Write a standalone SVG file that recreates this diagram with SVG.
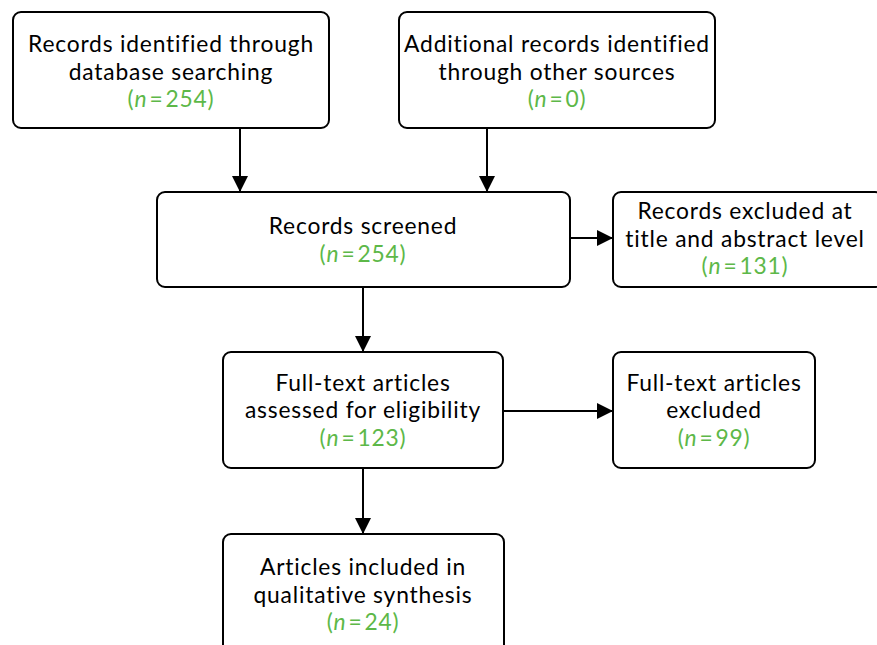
<svg xmlns="http://www.w3.org/2000/svg" width="877" height="645" viewBox="0 0 877 645">
<defs>
<marker id="ah" viewBox="0 0 16 16" refX="16" refY="8" markerWidth="16" markerHeight="16" markerUnits="userSpaceOnUse" orient="auto">
<path d="M0,0 L16,8 L0,16 Z" fill="#000"/>
</marker>
<style>
.box{fill:#fff;stroke:#000;stroke-width:2}
.t{font-family:Lato,"Open Sans","Liberation Sans",sans-serif;font-size:22.8px;letter-spacing:0.8px;fill:#000;text-anchor:middle}
.n{fill:#5db848}
.c{stroke:#000;stroke-width:2;fill:none;marker-end:url(#ah)}
</style>
</defs>
<rect width="877" height="645" fill="#fff"/>
<g id="connectors">
<line class="c" x1="240" y1="128" x2="240" y2="192"/>
<line class="c" x1="487" y1="128" x2="487" y2="192"/>
<line class="c" x1="570" y1="238" x2="613" y2="238"/>
<line class="c" x1="363" y1="287" x2="363" y2="352"/>
<line class="c" x1="503" y1="411" x2="613" y2="411"/>
<line class="c" x1="363" y1="468" x2="363" y2="534"/>
</g>
<g id="n1">
<rect class="box" x="13" y="12" width="316" height="116" rx="8"/>
<text class="t" x="171" y="52">Records identified through</text>
<text class="t" x="171" y="79.5">database searching</text>
<text class="t n" x="171" y="107">(<tspan font-style="italic">n</tspan><tspan dx="2">=</tspan><tspan dx="2">254)</tspan></text>
</g>
<g id="n2">
<rect class="box" x="399" y="12" width="316" height="116" rx="8"/>
<text class="t" x="557" y="52">Additional records identified</text>
<text class="t" x="557" y="79.5">through other sources</text>
<text class="t n" x="557" y="107">(<tspan font-style="italic">n</tspan><tspan dx="2">=</tspan><tspan dx="2">0)</tspan></text>
</g>
<g id="n3">
<rect class="box" x="157" y="192" width="413" height="95" rx="8"/>
<text class="t" x="363" y="234">Records screened</text>
<text class="t n" x="363" y="262">(<tspan font-style="italic">n</tspan><tspan dx="2">=</tspan><tspan dx="2">254)</tspan></text>
</g>
<g id="n4">
<rect class="box" x="613" y="192" width="270" height="95" rx="8"/>
<text class="t" x="745" y="219">Records excluded at</text>
<text class="t" x="745" y="246.5">title and abstract level</text>
<text class="t n" x="745" y="274">(<tspan font-style="italic">n</tspan><tspan dx="2">=</tspan><tspan dx="2">131)</tspan></text>
</g>
<g id="n5">
<rect class="box" x="223" y="352" width="280" height="116" rx="8"/>
<text class="t" x="363" y="390.5">Full-text articles</text>
<text class="t" x="363" y="418">assessed for eligibility</text>
<text class="t n" x="363" y="445.5">(<tspan font-style="italic">n</tspan><tspan dx="2">=</tspan><tspan dx="2">123)</tspan></text>
</g>
<g id="n6">
<rect class="box" x="613" y="352" width="202" height="116" rx="8"/>
<text class="t" x="714" y="390.5">Full-text articles</text>
<text class="t" x="714" y="418">excluded</text>
<text class="t n" x="714" y="445.5">(<tspan font-style="italic">n</tspan><tspan dx="2">=</tspan><tspan dx="2">99)</tspan></text>
</g>
<g id="n7">
<rect class="box" x="223" y="534" width="281" height="130" rx="8"/>
<text class="t" x="363" y="575">Articles included in</text>
<text class="t" x="363" y="602.5">qualitative synthesis</text>
<text class="t n" x="363" y="630">(<tspan font-style="italic">n</tspan><tspan dx="2">=</tspan><tspan dx="2">24)</tspan></text>
</g>
</svg>
